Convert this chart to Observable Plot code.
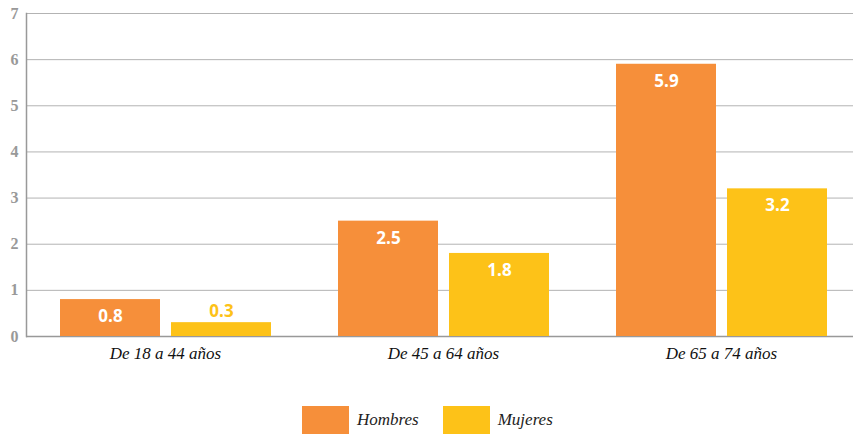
<!DOCTYPE html>
<html><head><meta charset="utf-8">
<script src="https://cdn.jsdelivr.net/npm/d3@7"></script>
<script src="https://cdn.jsdelivr.net/npm/@observablehq/plot@0.6"></script>
<style>
body{margin:0;background:#fff;}
#legend{display:flex;justify-content:flex-start;align-items:center;height:28px;margin-top:26px;padding-left:302px;font-family:"Liberation Serif",serif;font-style:italic;font-size:17px;color:#222;}
.sw{width:47px;height:28px;display:inline-block;margin-right:8px;}
.item{display:flex;align-items:center;margin-right:24px;}
</style></head>
<body>
<div id="chart"></div>
<div id="legend"></div>
<script>
const groups = ["De 18 a 44 años", "De 45 a 64 años", "De 65 a 74 años"];
const sexes = ["Hombres", "Mujeres"];
const hombres = [0.8, 2.5, 5.9];
const mujeres = [0.3, 1.8, 3.2];
const yTicks = [0, 1, 2, 3, 4, 5, 6, 7];
const colors = ["#F68F3A", "#FDC218"];

const data = [];
groups.forEach((g, i) => {
  data.push({group: g, sex: sexes[0], value: hombres[i]});
  data.push({group: g, sex: sexes[1], value: mujeres[i]});
});

const chart = Plot.plot({
  width: 853,
  height: 380,
  marginTop: 13,
  marginBottom: 44,
  marginLeft: 26,
  marginRight: -7,
  fx: {domain: groups, padding: 0, label: null},
  x: {domain: sexes, paddingInner: 0.1, paddingOuter: 0.3, axis: null},
  y: {domain: [0, 7], ticks: yTicks, label: null},
  color: {domain: sexes, range: colors},
  marks: [
    Plot.gridY(yTicks.filter(d => d > 0), {stroke: "#b3b3b3", strokeOpacity: 1, strokeWidth: 1}),
    Plot.ruleY([0], {stroke: "#999", strokeWidth: 1.5}),
    Plot.frame({anchor: "left", facet: "super", stroke: "#999", strokeWidth: 1.5}),
    Plot.barY(data, {fx: "group", x: "sex", y: "value", fill: "sex"}),
    Plot.text(data.filter(d => d.value >= 0.5), {fx: "group", x: "sex", y: "value", text: d => d.value.toFixed(1), dy: 17, fill: "white", fontSize: 17, fontWeight: "bold", fontFamily: "'Open Sans', sans-serif"}),
    Plot.text(data.filter(d => d.value < 0.5), {fx: "group", x: "sex", y: "value", text: d => d.value.toFixed(1), dy: -11, fill: "sex", fontSize: 17, fontWeight: "bold", fontFamily: "'Open Sans', sans-serif"}),
    Plot.axisY({ticks: yTicks, tickFormat: "d", tickSize: 0, tickPadding: 8, fontSize: 16, fontWeight: "bold", fontFamily: "'Liberation Serif', serif", color: "#999", label: null}),
    Plot.axisFx({anchor: "bottom", tickSize: 0, tickPadding: 10, fontSize: 17, fontStyle: "italic", fontFamily: "'Liberation Serif', serif", color: "#111", label: null})
  ]
});
document.getElementById("chart").appendChild(chart);

const legend = document.getElementById("legend");
sexes.forEach((s, i) => {
  const item = document.createElement("div");
  item.className = "item";
  const sw = document.createElement("span");
  sw.className = "sw";
  sw.style.background = colors[i];
  item.appendChild(sw);
  item.appendChild(document.createTextNode(s));
  legend.appendChild(item);
});
</script>
</body></html>
